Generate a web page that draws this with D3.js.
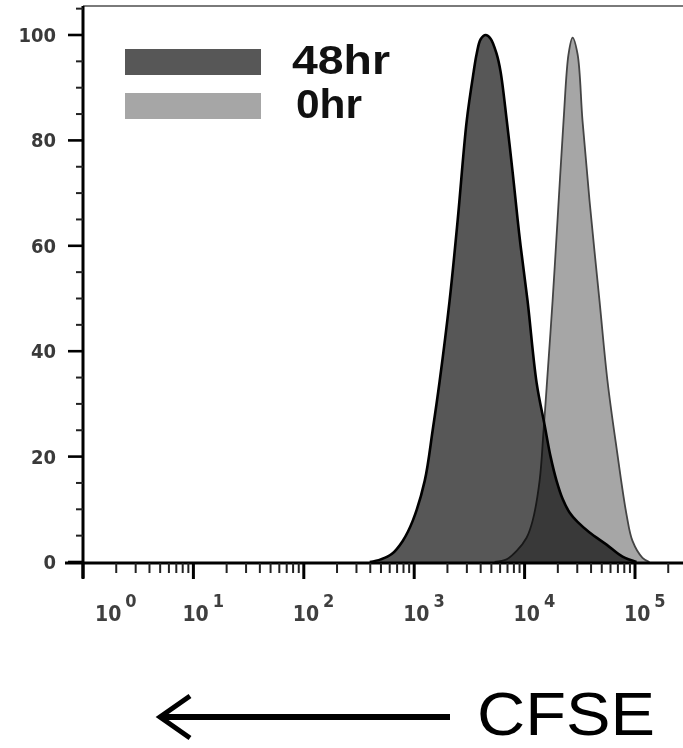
<!DOCTYPE html>
<html>
<head>
<meta charset="utf-8">
<script src="https://cdn.jsdelivr.net/npm/d3@7"></script>
<style>
  body { margin: 0; background: #fff; }
</style>
</head>
<body>
<div id="chart"></div>
<script>
/* CFSE intensity and event counts (% of max). */
const cfse48 = [396, 497, 625, 787, 969, 1245, 1470, 1700, 2090, 2480, 2990, 3455, 3678, 3998, 4436, 4923, 5580, 6064, 6873, 7790, 8644, 9200, 10645, 12850, 15170, 17190, 19480, 22080, 25540, 30170, 38750, 55230, 77070, 103200]
const count48 = [0, 0.5, 1.5, 4, 7.8, 15.4, 25, 34.3, 49.5, 65, 83.7, 93, 96.4, 99.2, 100, 99.3, 96.4, 93, 84, 74, 65, 60, 49.5, 34, 26, 20, 15.4, 12, 9.4, 7.6, 5.6, 3.3, 1, 0]

const cfse0 = [5350, 6870, 8470, 10420, 11810, 13670, 14860, 15820, 17920, 19890, 22530, 25020, 27190, 30170, 33470, 38760, 47730, 56380, 68080, 83800, 94900, 116900, 135300]
const count0 = [0, 0.5, 2.1, 4.6, 7.8, 15.4, 25, 33, 49.5, 65, 83.7, 96.4, 99.5, 96.4, 83.7, 68.5, 49.5, 34.3, 21.6, 9, 4, 0.8, 0]

const yTicks = [0, 20, 40, 60, 80, 100]
const xDecades = [0, 1, 2, 3, 4, 5]
const legendLabels = ["48hr", "0hr"]
const legendColors = ["#575757", "#a6a6a6"]

/* Define svg-size. */
const width = 683
const height = 748

const svg = d3.select("#chart")
  .append("svg")
  .attr("width", width)
  .attr("height", height)

/* Scales. */
const x = d3.scaleLog()
  .domain([1, 1e5])
  .range([83, 635])

const y = d3.scaleLinear()
  .domain([0, 100])
  .range([562, 35])

/* Area + line generators. */
const curve = d3.curveCatmullRom.alpha(0.5)

const area = d3.area()
  .x(d => x(d[0]))
  .y0(y(0))
  .y1(d => Math.min(y(d[1]), y(0)))
  .curve(curve)

const line = d3.line()
  .x(d => x(d[0]))
  .y(d => y(d[1]))
  .curve(curve)

const data48 = d3.zip(cfse48, count48)
const data0 = d3.zip(cfse0, count0)

/* Top frame line. */
svg.append("line")
  .attr("x1", 83)
  .attr("x2", width)
  .attr("y1", 6)
  .attr("y2", 6)
  .attr("stroke", "#7a7a7a")
  .attr("stroke-width", 2)

/* 0hr histogram first, 48hr on top (multiply gives the darker overlap). */
const plot = svg.append("g")

plot.append("path")
  .datum(data0)
  .attr("d", area)
  .attr("fill", legendColors[1])

plot.append("path")
  .datum(data0)
  .attr("d", line)
  .attr("fill", "none")
  .attr("stroke", "#444")
  .attr("stroke-width", 1.8)

plot.append("path")
  .datum(data48)
  .attr("d", area)
  .attr("fill", legendColors[0])
  .style("mix-blend-mode", "multiply")

plot.append("path")
  .datum(data48)
  .attr("d", line)
  .attr("fill", "none")
  .attr("stroke", "#000")
  .attr("stroke-width", 2.6)

/* Y axis, drawn by hand to get minor ticks. */
const yAxis = svg.append("g")

yAxis.append("line")
  .attr("x1", 83)
  .attr("x2", 83)
  .attr("y1", 6)
  .attr("y2", 578)
  .attr("stroke", "#000")
  .attr("stroke-width", 3)

yAxis.selectAll(".ymin")
  .data(d3.range(0, 106, 5).filter(d => d % 20 !== 0))
  .enter()
  .append("line")
  .attr("x1", 76)
  .attr("x2", 83)
  .attr("y1", d => y(d))
  .attr("y2", d => y(d))
  .attr("stroke", "#222")
  .attr("stroke-width", 2)

yAxis.selectAll(".ymaj")
  .data(yTicks)
  .enter()
  .append("line")
  .attr("x1", 68)
  .attr("x2", 83)
  .attr("y1", d => y(d))
  .attr("y2", d => y(d))
  .attr("stroke", "#000")
  .attr("stroke-width", 2.6)

yAxis.selectAll("text")
  .data(yTicks)
  .enter()
  .append("text")
  .attr("x", 56)
  .attr("y", d => y(d) + 7)
  .attr("text-anchor", "end")
  .attr("font-family", "DejaVu Sans")
  .attr("font-weight", "bold")
  .attr("font-stretch", "condensed")
  .attr("font-size", "20px")
  .attr("fill", "#3a3a3a")
  .text(d => d)

/* X axis. */
const xAxis = svg.append("g")

xAxis.append("line")
  .attr("x1", 65)
  .attr("x2", width)
  .attr("y1", 563)
  .attr("y2", 563)
  .attr("stroke", "#000")
  .attr("stroke-width", 3)

/* Minor log ticks 2..9 in every decade up to the edge. */
const minorX = []
xDecades.forEach(p => {
  for (let m = 2; m <= 9; m++) minorX.push(m * Math.pow(10, p))
})

xAxis.selectAll(".xmin")
  .data(minorX.filter(d => x(d) < width))
  .enter()
  .append("line")
  .attr("x1", d => x(d))
  .attr("x2", d => x(d))
  .attr("y1", 563)
  .attr("y2", 573)
  .attr("stroke", "#222")
  .attr("stroke-width", 2)

xAxis.selectAll(".xmaj")
  .data(xDecades)
  .enter()
  .append("line")
  .attr("x1", d => x(Math.pow(10, d)))
  .attr("x2", d => x(Math.pow(10, d)))
  .attr("y1", 563)
  .attr("y2", 579)
  .attr("stroke", "#000")
  .attr("stroke-width", 3)

const xLabels = xAxis.selectAll("text")
  .data(xDecades)
  .enter()
  .append("text")
  .attr("x", d => Math.max(x(Math.pow(10, d)) - 11, 95))
  .attr("y", 621)
  .attr("font-family", "DejaVu Sans")
  .attr("font-weight", "bold")
  .attr("font-stretch", "condensed")
  .attr("font-size", "21px")
  .attr("fill", "#3f3f3f")

xLabels.append("tspan")
  .text("10")

xLabels.append("tspan")
  .attr("dx", 4)
  .attr("dy", -14)
  .attr("font-size", "18px")
  .text(d => d)

/* Legend. */
const legend = svg.append("g")

legend.selectAll("rect")
  .data(legendLabels)
  .enter()
  .append("rect")
  .attr("x", 125)
  .attr("y", (d, i) => 49 + i * 44)
  .attr("width", 136)
  .attr("height", 26)
  .attr("fill", (d, i) => legendColors[i])

legend.selectAll("text")
  .data(legendLabels)
  .enter()
  .append("text")
  .attr("x", (d, i) => i === 0 ? 292 : 296)
  .attr("y", (d, i) => 74 + i * 44)
  .attr("font-family", "Liberation Sans")
  .attr("font-weight", "bold")
  .attr("font-size", "40px")
  .attr("textLength", (d, i) => i === 0 ? 98 : 66)
  .attr("lengthAdjust", "spacingAndGlyphs")
  .attr("fill", "#111")
  .text(d => d)

/* Arrow + CFSE label below the plot. */
const note = svg.append("g")

note.append("line")
  .attr("x1", 162)
  .attr("x2", 450)
  .attr("y1", 717)
  .attr("y2", 717)
  .attr("stroke", "#000")
  .attr("stroke-width", 6)

note.append("path")
  .attr("d", "M190,696 L160,717 L190,738")
  .attr("fill", "none")
  .attr("stroke", "#000")
  .attr("stroke-width", 5)

note.append("text")
  .attr("x", 477)
  .attr("y", 735)
  .attr("font-family", "Liberation Sans")
  .attr("font-size", "62px")
  .attr("textLength", 178)
  .attr("lengthAdjust", "spacingAndGlyphs")
  .attr("fill", "#000")
  .text("CFSE")
</script>
</body>
</html>
